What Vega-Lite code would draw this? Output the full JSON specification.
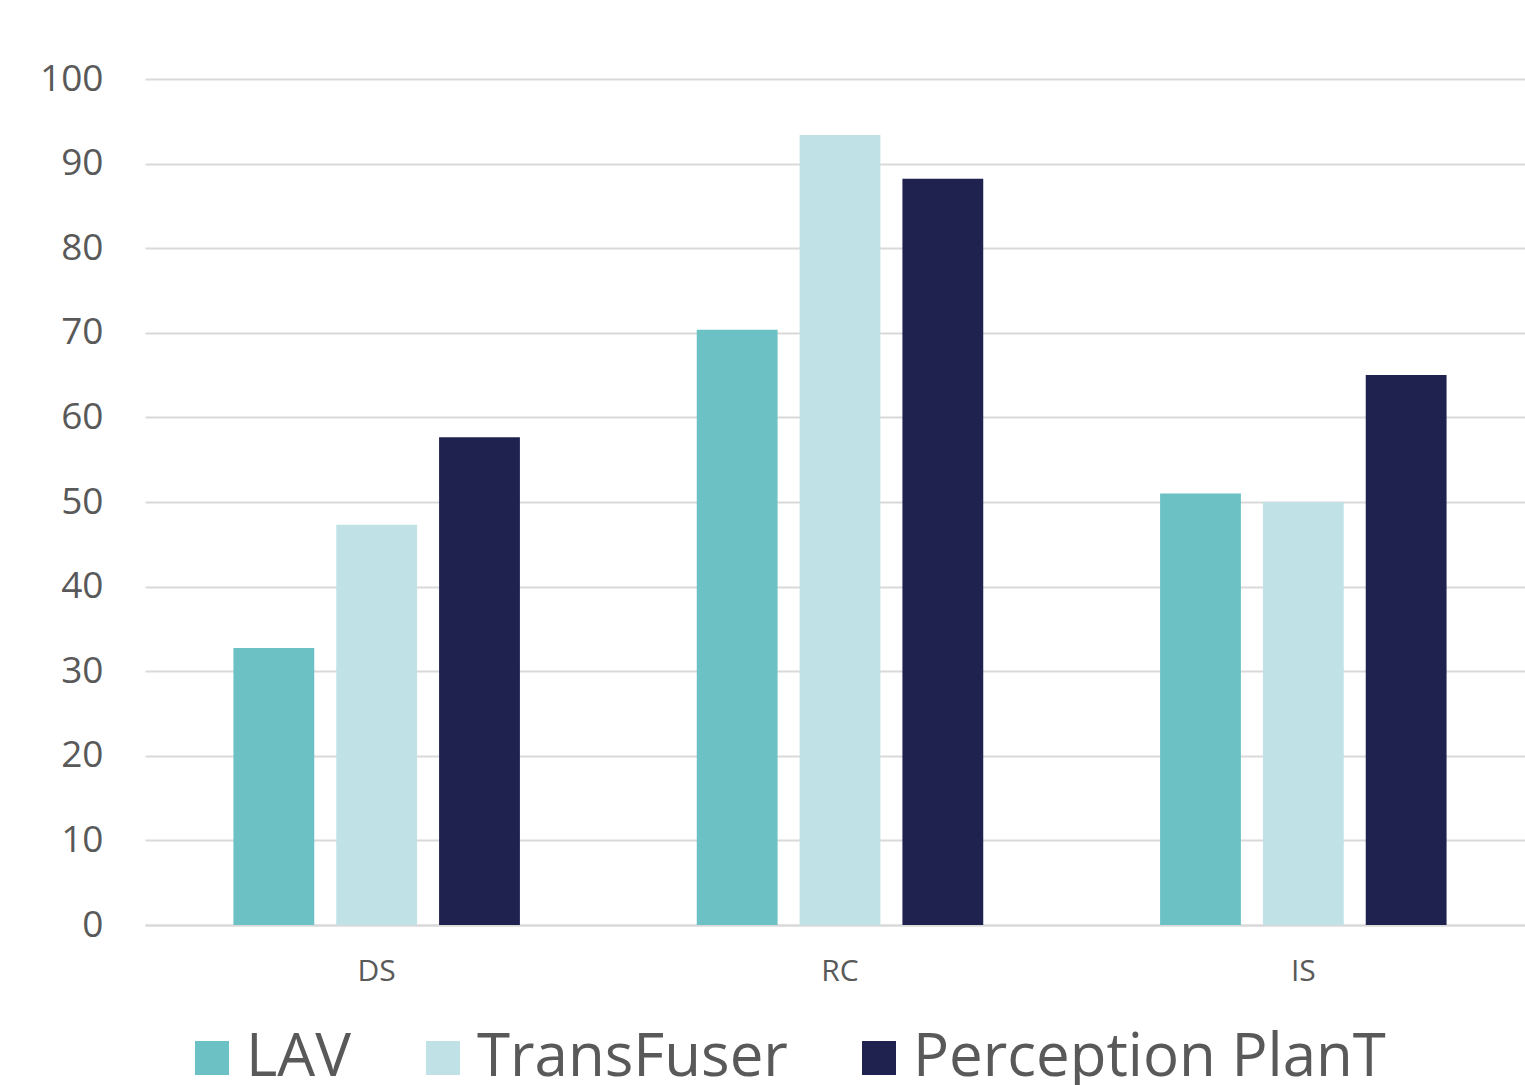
{
  "$schema": "https://vega.github.io/schema/vega-lite/v6.json",
  "width": 1390,
  "height": 846,
  "autosize": {"type": "none"},
  "padding": {"left": 145, "top": 79, "right": 0, "bottom": 160},
  "background": "white",
  "data": {"values": [
    {"metric": "DS", "method": "LAV", "value": 32.74},
    {"metric": "DS", "method": "TransFuser", "value": 47.30},
    {"metric": "DS", "method": "Perception PlanT", "value": 57.66},
    {"metric": "RC", "method": "LAV", "value": 70.36},
    {"metric": "RC", "method": "TransFuser", "value": 93.38},
    {"metric": "RC", "method": "Perception PlanT", "value": 88.20},
    {"metric": "IS", "method": "LAV", "value": 51},
    {"metric": "IS", "method": "TransFuser", "value": 50},
    {"metric": "IS", "method": "Perception PlanT", "value": 65}
  ]},
  "mark": {"type": "bar"},
  "encoding": {
    "x": {"field": "metric", "type": "nominal", "sort": ["DS", "RC", "IS"],
      "scale": {"paddingInner": 0, "paddingOuter": 0},
      "axis": {"title": null, "labelAngle": 0, "labelFont": "Open Sans", "labelFontSize": 30, "labelColor": "#595959", "labelPadding": 31, "ticks": false, "domainColor": "#d9d9d9", "domainWidth": 2}},
    "xOffset": {"field": "method", "type": "nominal", "sort": ["LAV", "TransFuser", "Perception PlanT"],
      "scale": {"paddingInner": 0.214, "paddingOuter": 0.86}},
    "y": {"field": "value", "type": "quantitative", "scale": {"domain": [0, 100]},
      "axis": {"title": null, "values": [0,10,20,30,40,50,60,70,80,90,100], "labelFont": "Open Sans", "labelFontSize": 37, "labelColor": "#595959", "labelPadding": 42, "ticks": false, "domain": false, "gridColor": "#d9d9d9", "gridWidth": 2}},
    "color": {"field": "method", "type": "nominal", "sort": ["LAV", "TransFuser", "Perception PlanT"],
      "scale": {"domain": ["LAV", "TransFuser", "Perception PlanT"], "range": ["#6BC1C4", "#C0E2E6", "#1F214F"]},
      "legend": {"title": null, "orient": "none", "direction": "horizontal", "legendX": 37, "legendY": 949,
        "symbolType": "square", "symbolSize": 1156, "symbolStrokeWidth": 0, "symbolOpacity": 1,
        "labelFont": "Open Sans", "labelFontSize": 60, "labelColor": "#595959", "labelLimit": 1000, "columnPadding": 61, "labelOffset": 4}}
  },
  "config": {"view": {"stroke": null}}
}
